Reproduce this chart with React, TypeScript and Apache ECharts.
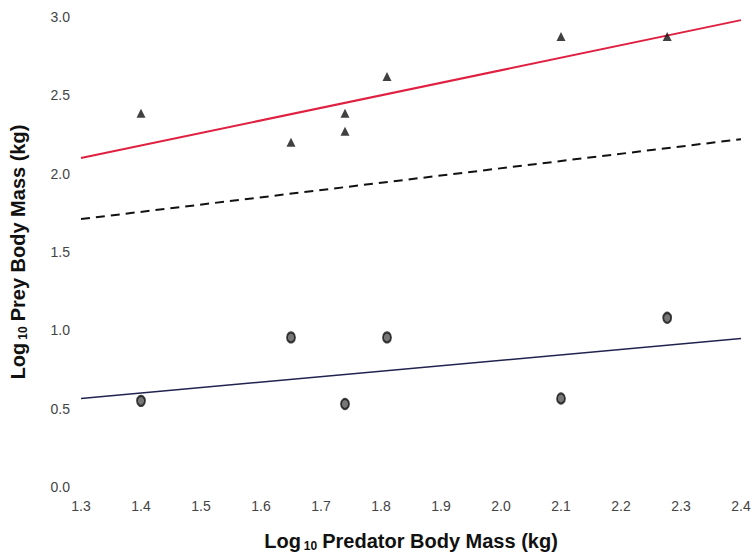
import React, { useEffect, useRef } from "react";
import * as echarts from "echarts";

const xTicks = [1.3, 2.4];
const triangles: [number, number][] = [
  [1.4, 2.385], [1.65, 2.2], [1.74, 2.385], [1.74, 2.27], [1.81, 2.62], [2.1, 2.875], [2.277, 2.875],
];
const circles: [number, number][] = [
  [1.4, 0.55], [1.65, 0.955], [1.74, 0.53], [1.81, 0.955], [2.1, 0.565], [2.277, 1.08],
];
const redFit: [number, number][] = [[1.3, 2.1], [2.4, 2.98]];
const dashedFit: [number, number][] = [[1.3, 1.71], [2.4, 2.22]];
const blueFit: [number, number][] = [[1.3, 0.565], [2.4, 0.948]];

export default function App() {
  const ref = useRef<HTMLDivElement>(null);
  useEffect(() => {
    const chart = echarts.init(ref.current!, null, { renderer: "svg" });
    const titleRich = {
      a: { fontFamily: "Liberation Sans, Arial", fontWeight: "bold", fontSize: 20, color: "#111" },
      s: { fontFamily: "Liberation Sans, Arial", fontWeight: "bold", fontSize: 12, color: "#111", verticalAlign: "bottom", padding: [10, 5, 0, 3] },
    };
    const tickLabel = {
      color: "#444",
      fontFamily: "Liberation Sans, Arial",
      fontSize: 14,
      formatter: (v: number) => v.toFixed(1),
    };
    chart.setOption({
      animation: false,
      backgroundColor: "#fff",
      grid: { left: 80, right: 14, top: 17, bottom: 62 },
      xAxis: {
        type: "value",
        min: xTicks[0],
        max: xTicks[1],
        interval: 0.1,
        axisLine: { show: false },
        axisTick: { show: false },
        splitLine: { show: false },
        axisLabel: { ...tickLabel, margin: 12 },
        name: "{a|Log}{s|10}{a|Predator Body Mass (kg)}",
        nameLocation: "middle",
        nameGap: 43,
        nameTextStyle: { rich: titleRich },
      },
      yAxis: {
        type: "value",
        min: 0,
        max: 3,
        interval: 0.5,
        axisLine: { show: false },
        axisTick: { show: false },
        splitLine: { show: false },
        axisLabel: { ...tickLabel, margin: 11 },
        name: "{a|Log}{s|10}{a|Prey Body Mass (kg)}",
        nameLocation: "middle",
        nameGap: 52,
        nameRotate: 90,
        nameTextStyle: { rich: titleRich },
      },
      series: [
        { type: "line", data: redFit, symbol: "none", lineStyle: { color: "#e02040", width: 2 }, z: 2 },
        { type: "line", data: dashedFit, symbol: "none", lineStyle: { color: "#111", width: 2, type: [9, 6] }, z: 2 },
        { type: "line", data: blueFit, symbol: "none", lineStyle: { color: "#22224f", width: 1.5 }, z: 2 },
        {
          type: "scatter",
          data: triangles,
          symbol: "triangle",
          symbolSize: [9, 9],
          itemStyle: { color: "#111" },
          z: 3,
        },
        {
          type: "scatter",
          data: circles,
          symbol: "circle",
          symbolSize: [8, 10],
          itemStyle: { color: "#555", borderColor: "#111", borderWidth: 2 },
          z: 3,
        },
      ],
    });
    return () => chart.dispose();
  }, []);
  return <div ref={ref} style={{ width: 755, height: 557, position: "absolute", left: 0, top: 0 }} />;
}
